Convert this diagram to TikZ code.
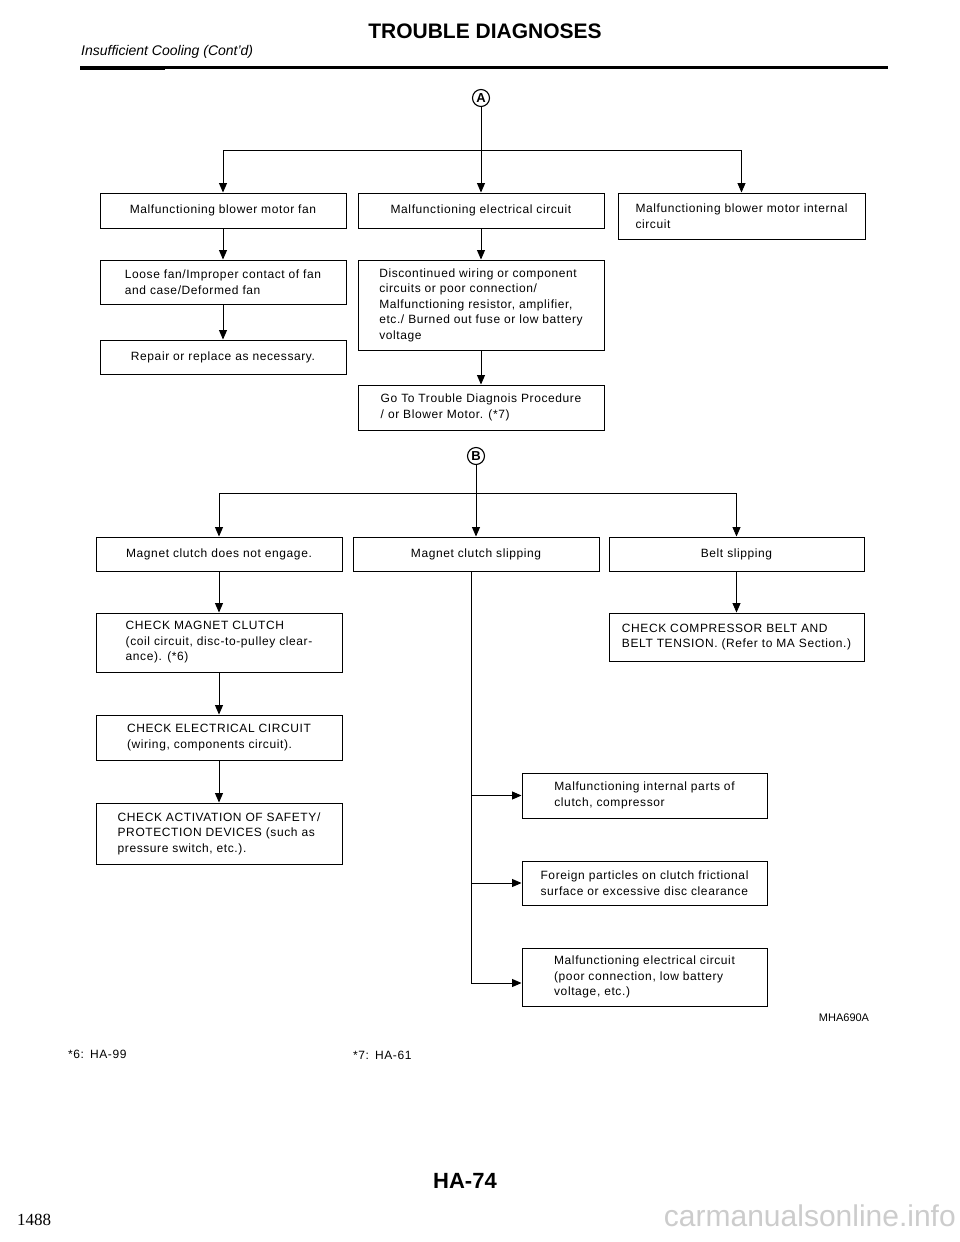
\documentclass[tikz,border=0pt]{standalone}
\usepackage{fontspec}
\setmainfont{Liberation Sans}
\newfontfamily\boxfam[LetterSpace=5]{Liberation Sans}
\newfontfamily\seriffam{Liberation Serif}
\usetikzlibrary{arrows.meta}
\newcommand\bodyfont{\boxfam\fontsize{12}{15.5}\selectfont}
\begin{document}
\begin{tikzpicture}[x=1pt,y=-1pt,
  box/.style={draw, line width=0.95pt, inner xsep=6pt, inner ysep=3pt, align=left, font=\bodyfont},
  conn/.style={line width=0.9pt},
  arr/.style={conn, -{Triangle[length=9.5pt,width=8pt]}},
  circmark/.style={circle, draw, line width=1.1pt, inner sep=0pt, minimum size=17pt, font=\fontsize{13}{13}\selectfont\bfseries},
  plain/.style={inner sep=0pt, font=\boxfam\fontsize{12}{14}\selectfont}]
\useasboundingbox (0,0) rectangle (960,1242);
\fill[white] (0,0) rectangle (960,1242);

% header
\node[inner sep=0pt, font=\fontsize{21}{21}\selectfont\bfseries] (title) at (485,31) {TROUBLE DIAGNOSES};
\node[inner sep=0pt, anchor=west, font=\fontsize{14}{14}\selectfont\itshape] (sub) at (81,52) {Insufficient Cooling (Cont'd)};
\draw[line width=3pt] (80,67.5) -- (888,67.5);
\draw[line width=4pt] (80,67.5) -- (165,67.5);

% section A
\node[circmark] (ca) at (481,98) {A};
\coordinate (ja) at (481,150);
\node[box, align=center, minimum width=246pt, minimum height=35pt] (b1) at (223,210.5) {Malfunctioning blower motor fan};
\node[box, align=center, minimum width=246pt, minimum height=35pt] (b2) at (481,210.5) {Malfunctioning electrical circuit};
\node[box, minimum width=247pt, minimum height=46pt] (b3) at (741.5,216) {Malfunctioning blower motor internal\\circuit};
\node[box, minimum width=246pt, minimum height=44pt] (b4) at (223,282) {Loose fan/Improper contact of fan\\and case/Deformed fan};
\node[box, minimum width=246pt, minimum height=34pt] (b5) at (223,357) {Repair or replace as necessary.};
\node[box, minimum width=246pt, minimum height=90pt] (b6) at (481,305) {Discontinued wiring or component\\circuits or poor connection/\\Malfunctioning resistor, amplifier,\\etc./ Burned out fuse or low battery\\voltage};
\node[box, minimum width=246pt, minimum height=45pt] (b7) at (481,407.5) {Go To Trouble Diagnois Procedure\\/ or Blower Motor. (*7)};

\draw[conn] (ca) -- (ja);
\draw[conn] (b1.north |- ja) -- (b3.north |- ja);
\draw[arr] (b1.north |- ja) -- (b1.north);
\draw[arr] (ja) -- (b2.north);
\draw[arr] (b3.north |- ja) -- (b3.north);
\draw[arr] (b1) -- (b4);
\draw[arr] (b4) -- (b5);
\draw[arr] (b2) -- (b6);
\draw[arr] (b6) -- (b7);

% section B
\node[circmark] (cb) at (476,456) {B};
\coordinate (jb) at (476,493);
\node[box, align=center, minimum width=246pt, minimum height=34pt] (c1) at (219,554) {Magnet clutch does not engage.};
\node[box, align=center, minimum width=246pt, minimum height=34pt] (c2) at (476,554) {Magnet clutch slipping};
\node[box, align=center, minimum width=255pt, minimum height=34pt] (c3) at (736.5,554) {Belt slipping};
\node[box, minimum width=246pt, minimum height=59pt] (c4) at (219,642.5) {CHECK MAGNET CLUTCH\\(coil circuit, disc-to-pulley clear-\\ance). (*6)};
\node[box, minimum width=246pt, minimum height=45pt] (c5) at (219,737.5) {CHECK ELECTRICAL CIRCUIT\\(wiring, components circuit).};
\node[box, minimum width=246pt, minimum height=61pt] (c6) at (219,833.5) {CHECK ACTIVATION OF SAFETY/\\PROTECTION DEVICES (such as\\pressure switch, etc.).};
\node[box, minimum width=255pt, minimum height=48pt] (c7) at (736.5,637) {CHECK COMPRESSOR BELT AND\\BELT TENSION. (Refer to MA Section.)};
\node[box, minimum width=245pt, minimum height=45pt] (d1) at (644.5,795.5) {Malfunctioning internal parts of\\clutch, compressor};
\node[box, minimum width=245pt, minimum height=44pt] (d2) at (644.5,883) {Foreign particles on clutch frictional\\surface or excessive disc clearance};
\node[box, minimum width=245pt, minimum height=58pt] (d3) at (644.5,977) {Malfunctioning electrical circuit\\(poor connection, low battery\\voltage, etc.)};

\draw[conn] (cb) -- (jb);
\draw[conn] (c1.north |- jb) -- (c3.north |- jb);
\draw[arr] (c1.north |- jb) -- (c1.north);
\draw[arr] (jb) -- (c2.north);
\draw[arr] (c3.north |- jb) -- (c3.north);
\draw[arr] (c1) -- (c4);
\draw[arr] (c4) -- (c5);
\draw[arr] (c5) -- (c6);
\draw[arr] (c3) -- (c7);

\coordinate (trunk) at (471,571);
\coordinate (d3in) at ([yshift=-6pt]d3.west);
\draw[conn] (trunk) -- (trunk |- d3in);
\draw[arr] (trunk |- d1.west) -- (d1.west);
\draw[arr] (trunk |- d2.west) -- (d2.west);
\draw[arr] (trunk |- d3in) -- (d3in);

% notes and footer
\node[inner sep=0pt, font=\fontsize{11}{11}\selectfont] (code) at (844,1018) {MHA690A};
\node[plain, anchor=west] (n6) at (68,1054) {*6:\enspace HA-99};
\node[plain, anchor=west] (n7) at (353,1055) {*7:\enspace HA-61};
\node[inner sep=0pt, font=\fontsize{22}{22}\selectfont\bfseries] (page) at (465,1181) {HA-74};
\node[inner sep=0pt, anchor=west, font=\seriffam\fontsize{17}{17}\selectfont] (num) at (17,1220) {1488};
\node[inner sep=0pt, anchor=east, text=black!20, font=\fontsize{30}{30}\selectfont] (wm) at (956,1216) {carmanualsonline.info};
\end{tikzpicture}
\end{document}
